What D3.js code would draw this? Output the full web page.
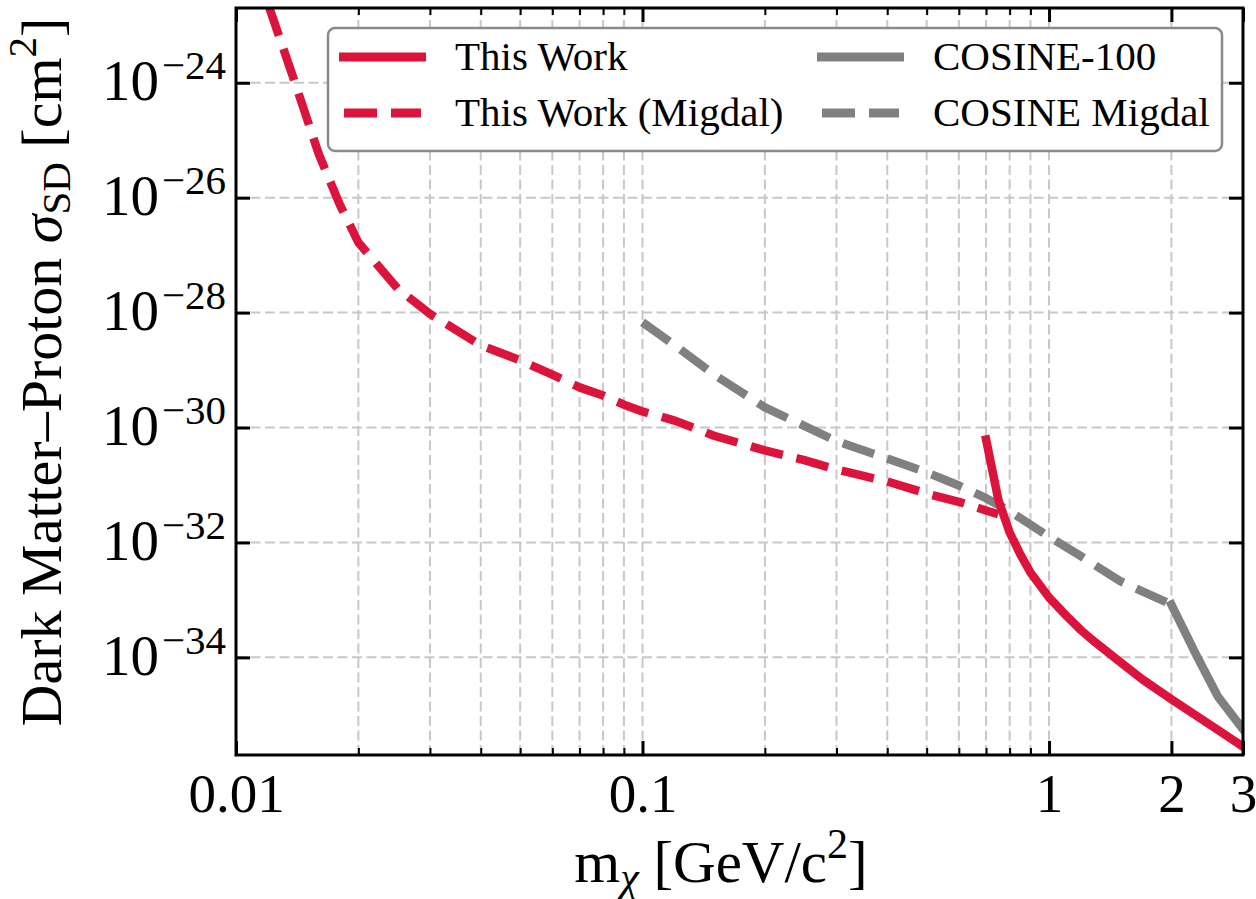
<!DOCTYPE html>
<html>
<head>
<meta charset="utf-8">
<script src="https://cdn.jsdelivr.net/npm/d3@7"></script>
<style>
  html, body { margin: 0; padding: 0; background: #fff; }
  svg { display: block; font-family: "Liberation Serif", "Times New Roman", serif; }
</style>
</head>
<body>
<svg id="chart" width="1256" height="899"></svg>
<script>
// Spin-dependent dark matter–proton cross-section limits vs. dark matter mass

// This Work (standard nuclear recoil)
const thisWorkMass  = [0.7, 0.75, 0.8, 0.85, 0.9, 1.0, 1.1, 1.2, 1.3, 1.5, 1.7, 2.0, 2.5, 3.0];
const thisWorkSigma = [6.2e-31, 5.6e-32, 1.49e-32, 6.2e-33, 3.0e-33, 1.1e-33, 5.4e-34, 2.95e-34, 1.82e-34,
                       8.2e-35, 4.1e-35, 1.86e-35, 6.6e-36, 2.8e-36];

// This Work (Migdal effect)
const migdalMass  = [0.012, 0.014, 0.016, 0.018, 0.02, 0.025, 0.03, 0.04, 0.05, 0.06, 0.07, 0.08, 0.09,
                     0.1, 0.12, 0.15, 0.2, 0.25, 0.3, 0.4, 0.5, 0.6, 0.7, 0.75];
const migdalSigma = [2.3e-23, 9.5e-25, 5.6e-26, 7.6e-27, 1.66e-27, 2.6e-28, 9.5e-29, 2.7e-29, 1.48e-29, 8.3e-30, 5.0e-30, 3.6e-30, 2.5e-30,
                     1.9e-30, 1.32e-30, 7.2e-31, 4.0e-31, 2.7e-31, 1.86e-31, 1.15e-31, 7.1e-32, 5.1e-32, 3.6e-32, 3.1e-32];

// COSINE-100
const cosineMass  = [2.0, 2.3, 2.6, 3.0];
const cosineSigma = [8.3e-34, 1.12e-34, 2.1e-35, 5.6e-36];

// COSINE Migdal
const cosineMigdalMass  = [0.1, 0.12, 0.15, 0.2, 0.3, 0.4, 0.5, 0.6, 0.7, 0.8, 1.0, 1.2, 1.5, 2.0];
const cosineMigdalSigma = [6.8e-29, 2.7e-29, 8.3e-30, 2.24e-30, 5.8e-31, 2.9e-31, 1.66e-31, 9.8e-32, 5.9e-32, 3.5e-32, 1.26e-32, 5.7e-33, 2.1e-33, 8.3e-34];

// Axis ticks
const xMajor = [0.01, 0.1, 1, 2, 3];
const xMajorLabels = ["0.01", "0.1", "1", "2", "3"];
const xMinor = [0.02, 0.03, 0.04, 0.05, 0.06, 0.07, 0.08, 0.09, 0.2, 0.3, 0.4, 0.5, 0.6, 0.7, 0.8, 0.9];
const yMajor = [1e-24, 1e-26, 1e-28, 1e-30, 1e-32, 1e-34];
const yExponents = ["\u221224", "\u221226", "\u221228", "\u221230", "\u221232", "\u221234"];

const legendLabels = ["This Work", "This Work (Migdal)", "COSINE-100", "COSINE Migdal"];

const RED = "#dc143c", GRAY = "#808080";

const svg = d3.select("#chart");
const L = 236, R = 1243, T = 8, B = 755;

const x = d3.scaleLog().domain([0.01, 3]).range([L, R]);
const y = d3.scaleLog().domain([2e-36, 2e-23]).range([B, T]);

// grid
const grid = svg.append("g")
  .attr("stroke", "#c8c8c8").attr("stroke-width", 2).attr("stroke-dasharray", "10 4.5");
grid.selectAll("line.gx")
  .data(xMajor.concat(xMinor).filter(v => v > 0.01 && v < 3))
  .join("line").attr("class", "gx")
  .attr("x1", d => x(d)).attr("x2", d => x(d)).attr("y1", B).attr("y2", T);
grid.selectAll("line.gy")
  .data(yMajor)
  .join("line").attr("class", "gy")
  .attr("x1", L).attr("x2", R).attr("y1", d => y(d)).attr("y2", d => y(d));

// data curves
svg.append("clipPath").attr("id", "plotClip")
  .append("rect").attr("x", L).attr("y", T).attr("width", R - L).attr("height", B - T);

const line = d3.line().x(d => x(d[0])).y(d => y(d[1]));
const curves = svg.append("g").attr("clip-path", "url(#plotClip)").attr("fill", "none")
  .attr("stroke-linejoin", "round");

const series = [
  { data: d3.zip(cosineMigdalMass, cosineMigdalSigma), color: GRAY, dashed: true },
  { data: d3.zip(cosineMass, cosineSigma), color: GRAY, dashed: false },
  { data: d3.zip(migdalMass, migdalSigma), color: RED, dashed: true },
  { data: d3.zip(thisWorkMass, thisWorkSigma), color: RED, dashed: false }
];
series.forEach(s => {
  curves.append("path")
    .attr("d", line(s.data))
    .attr("stroke", s.color)
    .attr("stroke-width", 8.5)
    .attr("stroke-linecap", s.dashed ? "butt" : "square")
    .attr("stroke-dasharray", s.dashed ? "33 14" : null);
});

// legend
const legendStyles = [
  { color: RED, dashed: false }, { color: RED, dashed: true },
  { color: GRAY, dashed: false }, { color: GRAY, dashed: true }
];
const lg = svg.append("g");
lg.append("rect")
  .attr("x", 328).attr("y", 28).attr("width", 894).attr("height", 123).attr("rx", 7)
  .attr("fill", "#fff").attr("stroke", "#8a8a8a").attr("stroke-width", 2.5);
legendLabels.forEach((label, i) => {
  const col = Math.floor(i / 2), row = i % 2;
  const ox = col * 478, oy = row * 56;
  const st = legendStyles[i];
  lg.append("line")
    .attr("x1", st.dashed ? 344 + ox : 339 + ox).attr("x2", st.dashed ? 421 + ox : 426 + ox)
    .attr("y1", 57 + oy).attr("y2", 57 + oy)
    .attr("stroke", st.color).attr("stroke-width", 9)
    .attr("stroke-dasharray", st.dashed ? "33 14" : null);
  lg.append("text")
    .attr("x", 455 + ox).attr("y", 70 + oy)
    .attr("font-size", 41).attr("fill", "#000")
    .text(label);
});

// axes (inward ticks on all four sides)
function styleAxis(g, width) {
  g.attr("font-family", null).attr("font-size", null);
  g.select(".domain").remove();
  g.selectAll(".tick line").attr("stroke", "#000").attr("stroke-width", width);
}

const gB = svg.append("g").attr("transform", `translate(0,${B})`)
  .call(d3.axisBottom(x).tickValues(xMajor).tickSize(-14).tickPadding(18)
    .tickFormat((d, i) => xMajorLabels[i]));
styleAxis(gB, 3);
gB.selectAll(".tick text").attr("font-size", 55).attr("fill", "#000");

const gBm = svg.append("g").attr("transform", `translate(0,${B})`)
  .call(d3.axisBottom(x).tickValues(xMinor).tickSize(-7).tickFormat(""));
styleAxis(gBm, 2);

const gT = svg.append("g").attr("transform", `translate(0,${T})`)
  .call(d3.axisTop(x).tickValues(xMajor).tickSize(-14).tickFormat(""));
styleAxis(gT, 3);
const gTm = svg.append("g").attr("transform", `translate(0,${T})`)
  .call(d3.axisTop(x).tickValues(xMinor).tickSize(-7).tickFormat(""));
styleAxis(gTm, 2);

const gL = svg.append("g").attr("transform", `translate(${L},0)`)
  .call(d3.axisLeft(y).tickValues(yMajor).tickSize(-14).tickFormat(""));
styleAxis(gL, 3);
gL.selectAll(".tick").each(function (d, i) {
  const t = d3.select(this).append("text")
    .attr("x", -10).attr("y", 17).attr("text-anchor", "end").attr("fill", "#000")
    .attr("font-size", 57);
  t.append("tspan").text("10");
  t.append("tspan").attr("font-size", 41).attr("dy", -21).attr("dx", 3).text(yExponents[i]);
});

const gR = svg.append("g").attr("transform", `translate(${R},0)`)
  .call(d3.axisRight(y).tickValues(yMajor).tickSize(-14).tickFormat(""));
styleAxis(gR, 3);

// frame
svg.append("rect")
  .attr("x", L).attr("y", T).attr("width", R - L).attr("height", B - T)
  .attr("fill", "none").attr("stroke", "#000").attr("stroke-width", 3);

// axis titles
const xl = svg.append("text")
  .attr("x", 721).attr("y", 882).attr("text-anchor", "middle")
  .attr("font-size", 59).attr("fill", "#000");
xl.append("tspan").text("m");
xl.append("tspan").attr("font-style", "italic").attr("font-size", 42).attr("dy", 9).text("\u03c7");
xl.append("tspan").attr("dy", -9).text(" [GeV/c");
xl.append("tspan").attr("font-size", 42).attr("dy", -24).text("2");
xl.append("tspan").attr("dy", 24).text("]");

const yl = svg.append("text")
  .attr("transform", "translate(61,372) rotate(-90)").attr("text-anchor", "middle")
  .attr("font-size", 58).attr("fill", "#000");
yl.append("tspan").text("Dark Matter\u2013Proton ");
yl.append("tspan").attr("font-style", "italic").text("\u03c3");
yl.append("tspan").attr("font-size", 41).attr("dy", 9).text("SD");
yl.append("tspan").attr("dy", -9).text(" [cm");
yl.append("tspan").attr("font-size", 41).attr("dy", -25).text("2");
yl.append("tspan").attr("dy", 25).text("]");
</script>
</body>
</html>
